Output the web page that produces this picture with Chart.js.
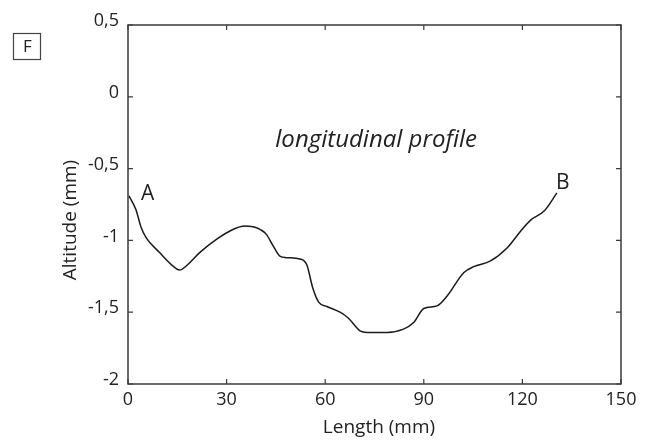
<!DOCTYPE html>
<html>
<head>
<meta charset="utf-8">
<script src="https://cdn.jsdelivr.net/npm/chart.js@4"></script>
<style>
  html, body { margin: 0; padding: 0; background: #fff; }
  #wrap { width: 652px; height: 441px; }
</style>
</head>
<body>
<div id="wrap"><canvas id="chartCanvas" width="652" height="441"></canvas></div>
<script>
// profile (length in mm, altitude in mm)
const lengthMm = [0.3, 2.4, 4.0, 5.5, 9.6, 13.1, 15.7, 17.7, 21.8, 26.9, 31.9, 35.5, 39.1, 42.1, 44.2, 46.2, 48.2,
  52.3, 54.4, 56.2, 58.0, 60.5, 64.5, 67.0, 70.6, 72.7, 78.8, 83.8, 86.9, 90.0, 94.0, 97.1, 102.2, 105.2,
  110.3, 115.4, 119.5, 122.5, 126.6, 130.5];
const altitudeMm = [-0.69, -0.785, -0.91, -0.98, -1.085, -1.167, -1.206, -1.178, -1.085, -0.993, -0.924, -0.90, -0.912,
  -0.958, -1.04, -1.109, -1.12, -1.13, -1.17, -1.33, -1.43, -1.46, -1.50, -1.54, -1.63, -1.641, -1.641, -1.618,
  -1.572, -1.474, -1.456, -1.387, -1.224, -1.183, -1.143, -1.051, -0.935, -0.859, -0.796, -0.669];
const xTicks = [0, 30, 60, 90, 120, 150];
const yTicks = [0.5, 0, -0.5, -1, -1.5, -2];

const points = lengthMm.map((x, i) => ({ x: x, y: altitudeMm[i] }));
const fontFamily = '"Open Sans", "Noto Sans", sans-serif';
const fmt = v => String(v).replace('.', ',');

// box frame, inward ticks, annotations
const extras = {
  id: 'extras',
  afterDraw(chart) {
    const ctx = chart.ctx;
    const a = chart.chartArea;
    const xs = chart.scales.x, ys = chart.scales.y;
    ctx.save();
    ctx.strokeStyle = '#3a3a3a';
    ctx.lineWidth = 1.5;
    ctx.strokeRect(a.left, a.top, a.right - a.left, a.bottom - a.top);
    ctx.lineWidth = 1.2;
    ctx.beginPath();
    xTicks.forEach(v => {
      const p = xs.getPixelForValue(v);
      ctx.moveTo(p, a.bottom); ctx.lineTo(p, a.bottom - 5);
      ctx.moveTo(p, a.top); ctx.lineTo(p, a.top + 5);
    });
    yTicks.forEach(v => {
      const p = ys.getPixelForValue(v);
      ctx.moveTo(a.left, p); ctx.lineTo(a.left + 5, p);
      ctx.moveTo(a.right, p); ctx.lineTo(a.right - 5, p);
    });
    ctx.stroke();

    ctx.fillStyle = '#222';
    ctx.textAlign = 'center';
    ctx.textBaseline = 'middle';
    ctx.font = '19px ' + fontFamily;
    ctx.fillText('Length (mm)', 379, 428);
    ctx.save();
    ctx.translate(71, 220);
    ctx.rotate(-Math.PI / 2);
    ctx.fillText('Altitude (mm)', 0, 0);
    ctx.restore();

    ctx.font = 'italic 24px ' + fontFamily;
    ctx.fillText('longitudinal profile', xs.getPixelForValue(75.5), ys.getPixelForValue(-0.30));
    ctx.font = '21px ' + fontFamily;
    ctx.fillText('A', xs.getPixelForValue(6), ys.getPixelForValue(-0.68));
    ctx.fillText('B', xs.getPixelForValue(132.3), ys.getPixelForValue(-0.60));

    // panel letter
    ctx.lineWidth = 1.2;
    ctx.strokeStyle = '#444';
    ctx.strokeRect(13.5, 33.5, 27, 26);
    ctx.font = '17px ' + fontFamily;
    ctx.fillText('F', 27.5, 47);
    ctx.restore();
  }
};

new Chart(document.getElementById('chartCanvas').getContext('2d'), {
  type: 'line',
  data: {
    datasets: [{
      data: points,
      borderColor: '#1a1a1a',
      borderWidth: 1.5,
      pointRadius: 0,
      fill: false,
      cubicInterpolationMode: 'monotone'
    }]
  },
  options: {
    responsive: false,
    animation: false,
    layout: { padding: { top: 25, right: 31, left: 0, bottom: 0 } },
    plugins: { legend: { display: false }, tooltip: { enabled: false } },
    scales: {
      x: {
        type: 'linear',
        min: 0, max: 150,
        afterBuildTicks: s => { s.ticks = xTicks.map(v => ({ value: v })); },
        afterFit: s => { s.height = 57; },
        grid: { display: false, drawTicks: false },
        border: { display: false },
        ticks: { padding: 5, color: '#222', font: { family: fontFamily, size: 18 }, maxRotation: 0, callback: v => fmt(v) }
      },
      y: {
        type: 'linear',
        min: -2, max: 0.5,
        afterBuildTicks: s => { s.ticks = yTicks.map(v => ({ value: v })); },
        afterFit: s => { s.width = 128; },
        grid: { display: false, drawTicks: false },
        border: { display: false },
        ticks: { padding: 9, labelOffset: -4, color: '#222', font: { family: fontFamily, size: 18 }, callback: v => fmt(v) }
      }
    }
  },
  plugins: [extras]
});
</script>
</body>
</html>
